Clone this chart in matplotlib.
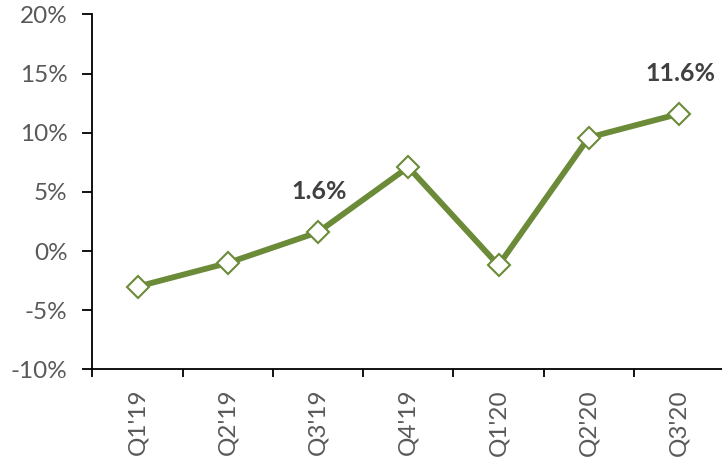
import matplotlib.pyplot as plt
from matplotlib.ticker import FixedLocator, FuncFormatter

# --- Data ---
quarters = ["Q1'19", "Q2'19", "Q3'19", "Q4'19", "Q1'20", "Q2'20", "Q3'20"]
growth = [-3.0, -1.0, 1.6, 7.1, -1.2, 9.6, 11.6]
labelled = ["Q3'19", "Q3'20"]

line_color = '#6B8B38'
text_gray = '#595959'

plt.rcParams['font.family'] = ['Lato', 'DejaVu Sans']

fig = plt.figure(figsize=(7.22, 4.65), dpi=100)
ax = fig.add_axes([0.128, 0.2054, 0.875, 0.7636])

x = list(range(len(quarters)))
ax.plot(x, growth, color=line_color, linewidth=4.2, marker='D', markersize=11.5,
        markerfacecolor='white', markeredgecolor=line_color, markeredgewidth=1.5,
        zorder=3, clip_on=False)

# Data labels on selected points
for xi, q, v in zip(x, quarters, growth):
    if q in labelled:
        ax.annotate(f'{v:.1f}%', xy=(xi, v), xytext=(1, 29), textcoords='offset points',
                    ha='center', va='center', fontsize=18, fontweight='bold',
                    color='#404040')

ax.set_xlim(-0.5, len(quarters) - 0.5)
ax.set_ylim(-10, 20)
ax.set_yticks(range(-10, 21, 5))
ax.yaxis.set_major_formatter(FuncFormatter(lambda v, p: f'{v:.0f}%'))

ax.set_xticks(x)
ax.set_xticklabels(quarters, rotation=90)
ax.xaxis.set_minor_locator(FixedLocator([i - 0.5 for i in range(len(quarters) + 1)]))

for side in ['top', 'right']:
    ax.spines[side].set_visible(False)
for side in ['left', 'bottom']:
    ax.spines[side].set_linewidth(1.3)
    ax.spines[side].set_color('black')

ax.tick_params(axis='y', which='major', length=7, width=1.3, pad=11,
               labelsize=17.5, labelcolor=text_gray)
ax.tick_params(axis='x', which='major', length=0, pad=14,
               labelsize=17.5, labelcolor=text_gray)
ax.tick_params(axis='x', which='minor', length=6, width=1.3)

fig.savefig('out.png', dpi=100)
plt.close(fig)
